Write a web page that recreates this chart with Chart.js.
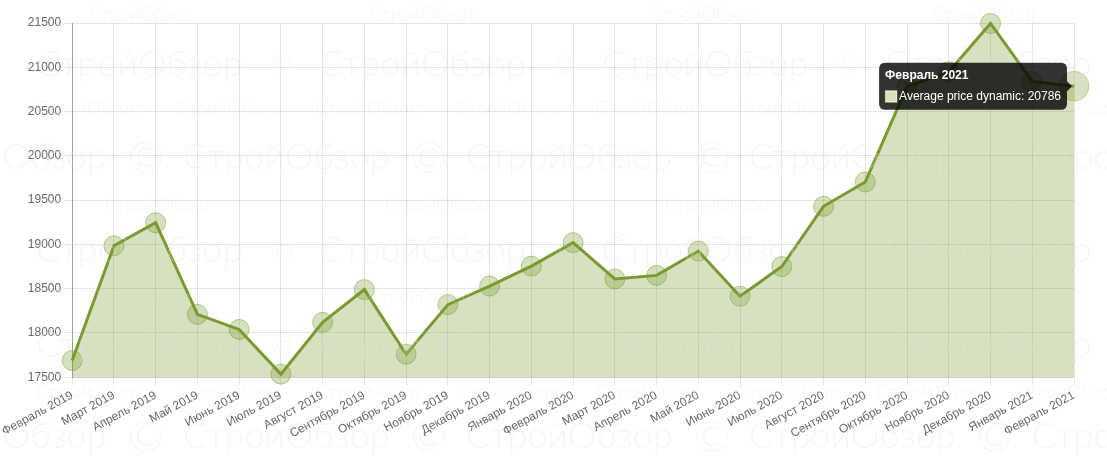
<!DOCTYPE html>
<html>
<head>
<meta charset="utf-8">
<script src="https://cdn.jsdelivr.net/npm/chart.js@4/dist/chart.umd.min.js"></script>
<style>
	html, body { margin: 0; padding: 0; background: #fff; }
	#wrap { width: 1107px; height: 456px; position: relative; }
</style>
</head>
<body>
<div id="wrap"><canvas id="price-chart"></canvas></div>
<script>
// 월별 라벨
var months = ['Февраль 2019', 'Март 2019', 'Апрель 2019', 'Май 2019', 'Июнь 2019', 'Июль 2019',
	'Август 2019', 'Сентябрь 2019', 'Октябрь 2019', 'Ноябрь 2019', 'Декабрь 2019', 'Январь 2020',
	'Февраль 2020', 'Март 2020', 'Апрель 2020', 'Май 2020', 'Июнь 2020', 'Июль 2020',
	'Август 2020', 'Сентябрь 2020', 'Октябрь 2020', 'Ноябрь 2020', 'Декабрь 2020', 'Январь 2021',
	'Февраль 2021'];
// 평균 가격
var avgPrice = [17690, 18985, 19245, 18210, 18040, 17535,
	18120, 18490, 17760, 18320, 18530, 18755,
	19020, 18610, 18650, 18925, 18415, 18750,
	19430, 19705, 20780, 20950, 21495, 20840,
	20786];
var seriesLabel = 'Average price dynamic';
// Y축 눈금
var yMin = 17500;
var yMax = 21500;
var yStep = 500;

var PriceChart;

// 배경 워터마크 (СтройОбзор)
var watermarkPlugin = {
	id : 'watermark',
	afterDatasetsDraw : function(chart) {
		var ctx = chart.ctx;
		var text = 'СтройОбзор';
		var face = ' Lato, "Open Sans", sans-serif';
		ctx.save();
		ctx.fillStyle = 'rgba(225, 225, 225, 0.3)';
		ctx.textBaseline = 'middle';
		// big rows: [y, startX]
		var bigRows = [[64, 36], [157, -100], [250, 36], [345, 36], [436, -100]];
		bigRows.forEach(function(r) {
			for (var x = r[1]; x < chart.width; x += 283) {
				ctx.font = '300 36px' + face;
				ctx.textAlign = 'left';
				ctx.fillText(text, x, r[0]);
				ctx.font = '300 ' + (r[1] < 0 ? '44px' : '26px') + face;
				ctx.textAlign = 'center';
				ctx.fillText('©', x + 246, r[0] + 2);
			}
		});
		// small rows: [y, startX, period]
		var smallRows = [[14, 89, 281], [108, 36, 140], [204, 105, 280], [297, 88, 280], [392, 36, 140]];
		ctx.font = '300 18px' + face;
		ctx.textAlign = 'left';
		smallRows.forEach(function(r) {
			for (var x = r[1]; x < chart.width; x += r[2]) {
				ctx.fillText(text, x, r[0]);
			}
		});
		ctx.restore();
	}
};

function createChart() {
	Chart.defaults.font.family = '"Liberation Sans", Arial, Helvetica, sans-serif';
	Chart.defaults.font.size = 12;
	Chart.defaults.color = '#666';

	var canvas = document.getElementById('price-chart');
	PriceChart = new Chart(canvas, {
		type : 'line',
		data : {
			labels : months,
			datasets : [ {
				label : seriesLabel,
				data : avgPrice,
				fill : 'start',
				backgroundColor : 'rgba(122, 154, 48, 0.3)',
				borderColor : 'rgb(122, 154, 48)',
				borderWidth : 3,
				tension : 0,
				pointRadius : 10,
				pointBackgroundColor : 'rgba(122, 154, 48, 0.3)',
				pointBorderColor : 'rgba(122, 154, 48, 0.5)',
				pointBorderWidth : 1,
				pointHoverRadius : 15,
				pointHoverBackgroundColor : 'rgba(122, 154, 48, 0.3)',
				pointHoverBorderColor : 'rgba(122, 154, 48, 0.3)',
				pointHoverBorderWidth : 1,
				clip : false
			} ]
		},
		options : {
			responsive : true,
			maintainAspectRatio : false,
			animation : false,
			layout : {
				padding : { top : 23, right : 33, bottom : 12, left : 4 }
			},
			plugins : {
				legend : { display : false },
				tooltip : {
					callbacks : {
						label : function(c) {
							return c.dataset.label + ': ' + c.raw;
						}
					}
				}
			},
			scales : {
				x : {
					grid : { color : 'rgba(0, 0, 0, 0.1)' },
					border : { color : 'rgba(0, 0, 0, 0.1)' },
					ticks : { autoSkip : false }
				},
				y : {
					min : yMin,
					max : yMax,
					grid : { color : 'rgba(0, 0, 0, 0.1)' },
					border : { color : 'rgba(0, 0, 0, 0.3)' },
					ticks : {
						stepSize : yStep,
						callback : function(v) { return v; }
					}
				}
			}
		},
		plugins : [ watermarkPlugin ]
	});

	// 마지막 포인트 툴팁 표시
	var last = avgPrice.length - 1;
	var meta = PriceChart.getDatasetMeta(0);
	var pt = meta.data[last];
	PriceChart.setActiveElements([ { datasetIndex : 0, index : last } ]);
	PriceChart.tooltip.setActiveElements([ { datasetIndex : 0, index : last } ], { x : pt.x, y : pt.y });
	PriceChart.update('none');
}

createChart();
</script>
</body>
</html>
